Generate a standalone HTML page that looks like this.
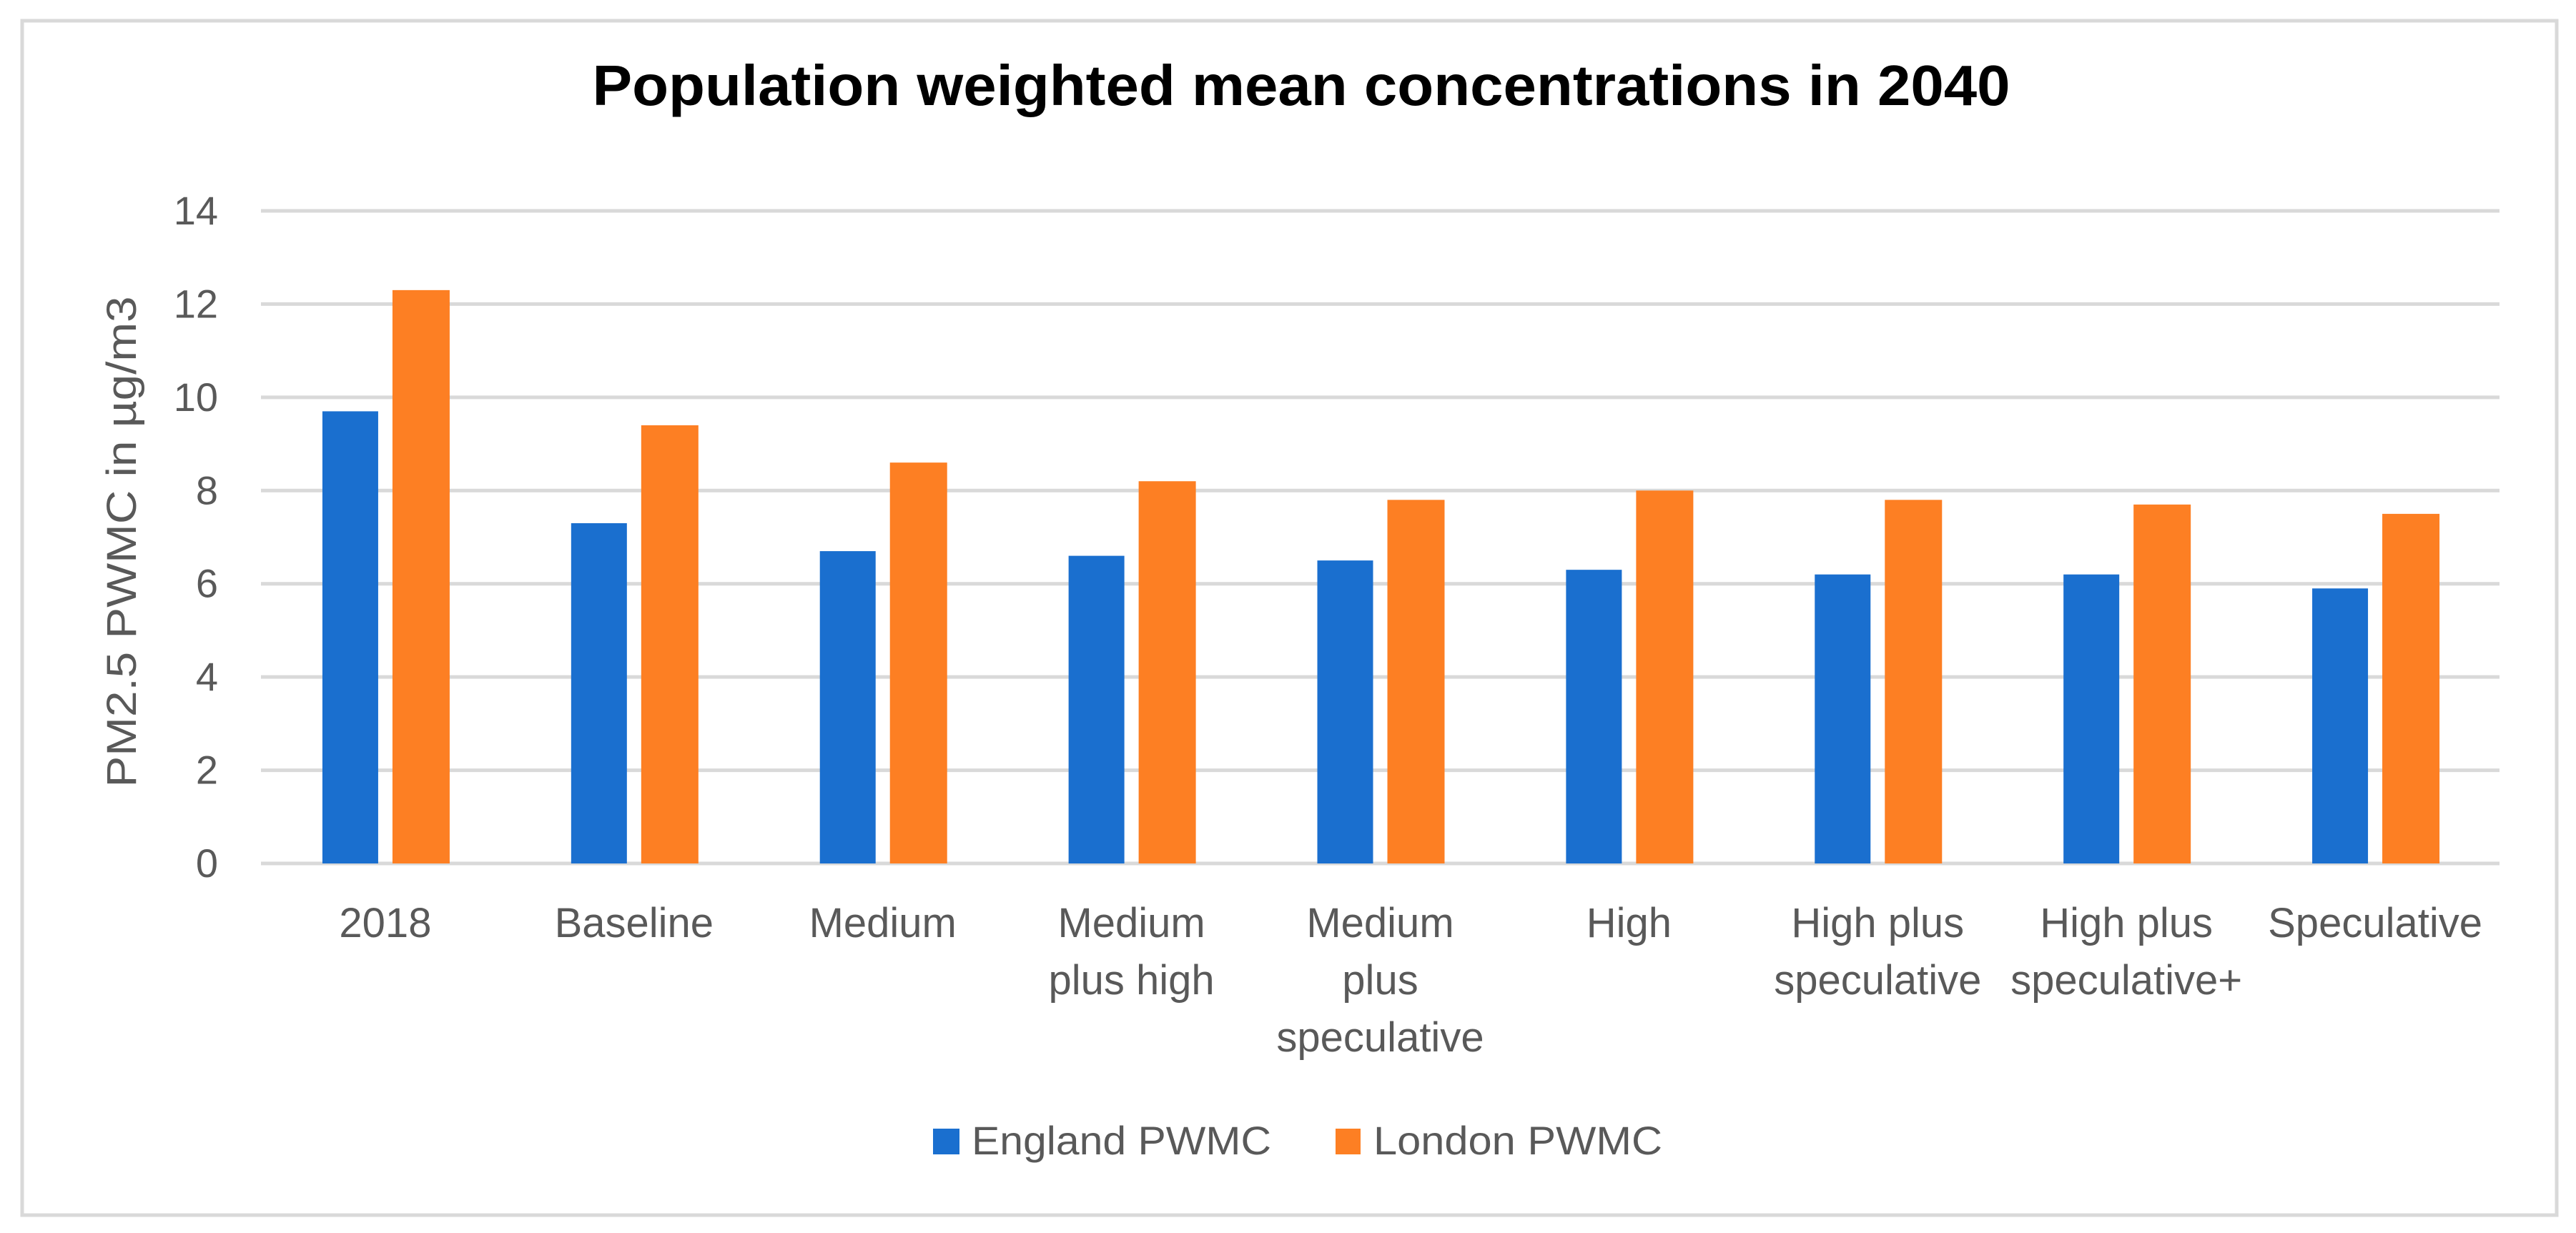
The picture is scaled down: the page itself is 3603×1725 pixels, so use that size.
<!DOCTYPE html>
<html><head><meta charset="utf-8"><style>
html,body{margin:0;padding:0;background:#fff;}
svg{display:block;}
text{font-family:"Liberation Sans Narrow","Liberation Sans",sans-serif;}
</style></head><body>
<svg id="chart" width="3603" height="1725" viewBox="0 0 3603 1725" xmlns="http://www.w3.org/2000/svg">
<rect x="31" y="29" width="3545" height="1671" fill="#fff" stroke="#d9d9d9" stroke-width="5"/>
<text x="1820" y="147" text-anchor="middle" font-size="80" font-weight="bold" fill="#000" textLength="1983" lengthAdjust="spacingAndGlyphs" style="font-family:'Liberation Sans',sans-serif">Population weighted mean concentrations in 2040</text>
<text transform="translate(190,758) rotate(-90)" text-anchor="middle" font-size="58" fill="#595959" textLength="687" lengthAdjust="spacingAndGlyphs" style="font-family:'Liberation Sans',sans-serif">PM2.5 PWMC in µg/m3</text>
<g id="grid"></g><g id="bars"></g><g id="xlabels"></g>
<g>
<rect x="1305" y="1579" width="37" height="36" fill="#1a6fcf"/>
<text x="1359" y="1615" font-size="56" fill="#595959" textLength="419" lengthAdjust="spacingAndGlyphs">England PWMC</text>
<rect x="1868" y="1579" width="35" height="36" fill="#fd7f23"/>
<text x="1921" y="1615" font-size="56" fill="#595959" textLength="404" lengthAdjust="spacingAndGlyphs">London PWMC</text>
</g>
</svg>
<script>
const categories = [["2018"],["Baseline"],["Medium"],["Medium","plus high"],["Medium","plus","speculative"],["High"],["High plus","speculative"],["High plus","speculative+"],["Speculative"]];
const englandValues = [9.7,7.3,6.7,6.6,6.5,6.3,6.2,6.2,5.9];
const londonValues = [12.3,9.4,8.6,8.2,7.8,8.0,7.8,7.7,7.5];
const yTicks = [0,2,4,6,8,10,12,14];

const NS="http://www.w3.org/2000/svg";
const plotL=365, plotR=3496, y0=1208, y14=295;
const bandW=(plotR-plotL)/categories.length;
const barW=78, gap=20;
function yScale(v){return y0-(v/14)*(y0-y14);}
function xBand(i){return plotL+i*bandW;}
function mk(tag,attrs,parent){const e=document.createElementNS(NS,tag);for(const k in attrs)e.setAttribute(k,attrs[k]);parent.appendChild(e);return e;}
const grid=document.getElementById('grid'), bars=document.getElementById('bars'), xl=document.getElementById('xlabels');
yTicks.forEach(t=>{
  const l=mk('line',{x1:plotL,x2:plotR,y1:yScale(t),y2:yScale(t),stroke:'#d9d9d9','stroke-width':5},grid);
  
  
  const tx=mk('text',{x:305,y:yScale(t)+19,'text-anchor':'end','font-size':56,fill:'#595959'},grid);
  tx.textContent=String(t);
  
  
});
categories.forEach((c,i)=>{
  const cx=xBand(i)+bandW/2;
  const b1=mk('rect',{x:cx-gap/2-barW,y:yScale(englandValues[i]),width:barW,height:y0-yScale(englandValues[i]),fill:'#1a6fcf'},bars);
  
  
  const b2=mk('rect',{x:cx+gap/2,y:yScale(londonValues[i]),width:barW+2,height:y0-yScale(londonValues[i]),fill:'#fd7f23'},bars);
  
  
  c.forEach((line,j)=>{
    const t=mk('text',{x:cx,y:1311+j*80,'text-anchor':'middle','font-size':58,fill:'#595959'},xl);
    t.textContent=line;
    
    
  });
});
</script>
</body></html>
